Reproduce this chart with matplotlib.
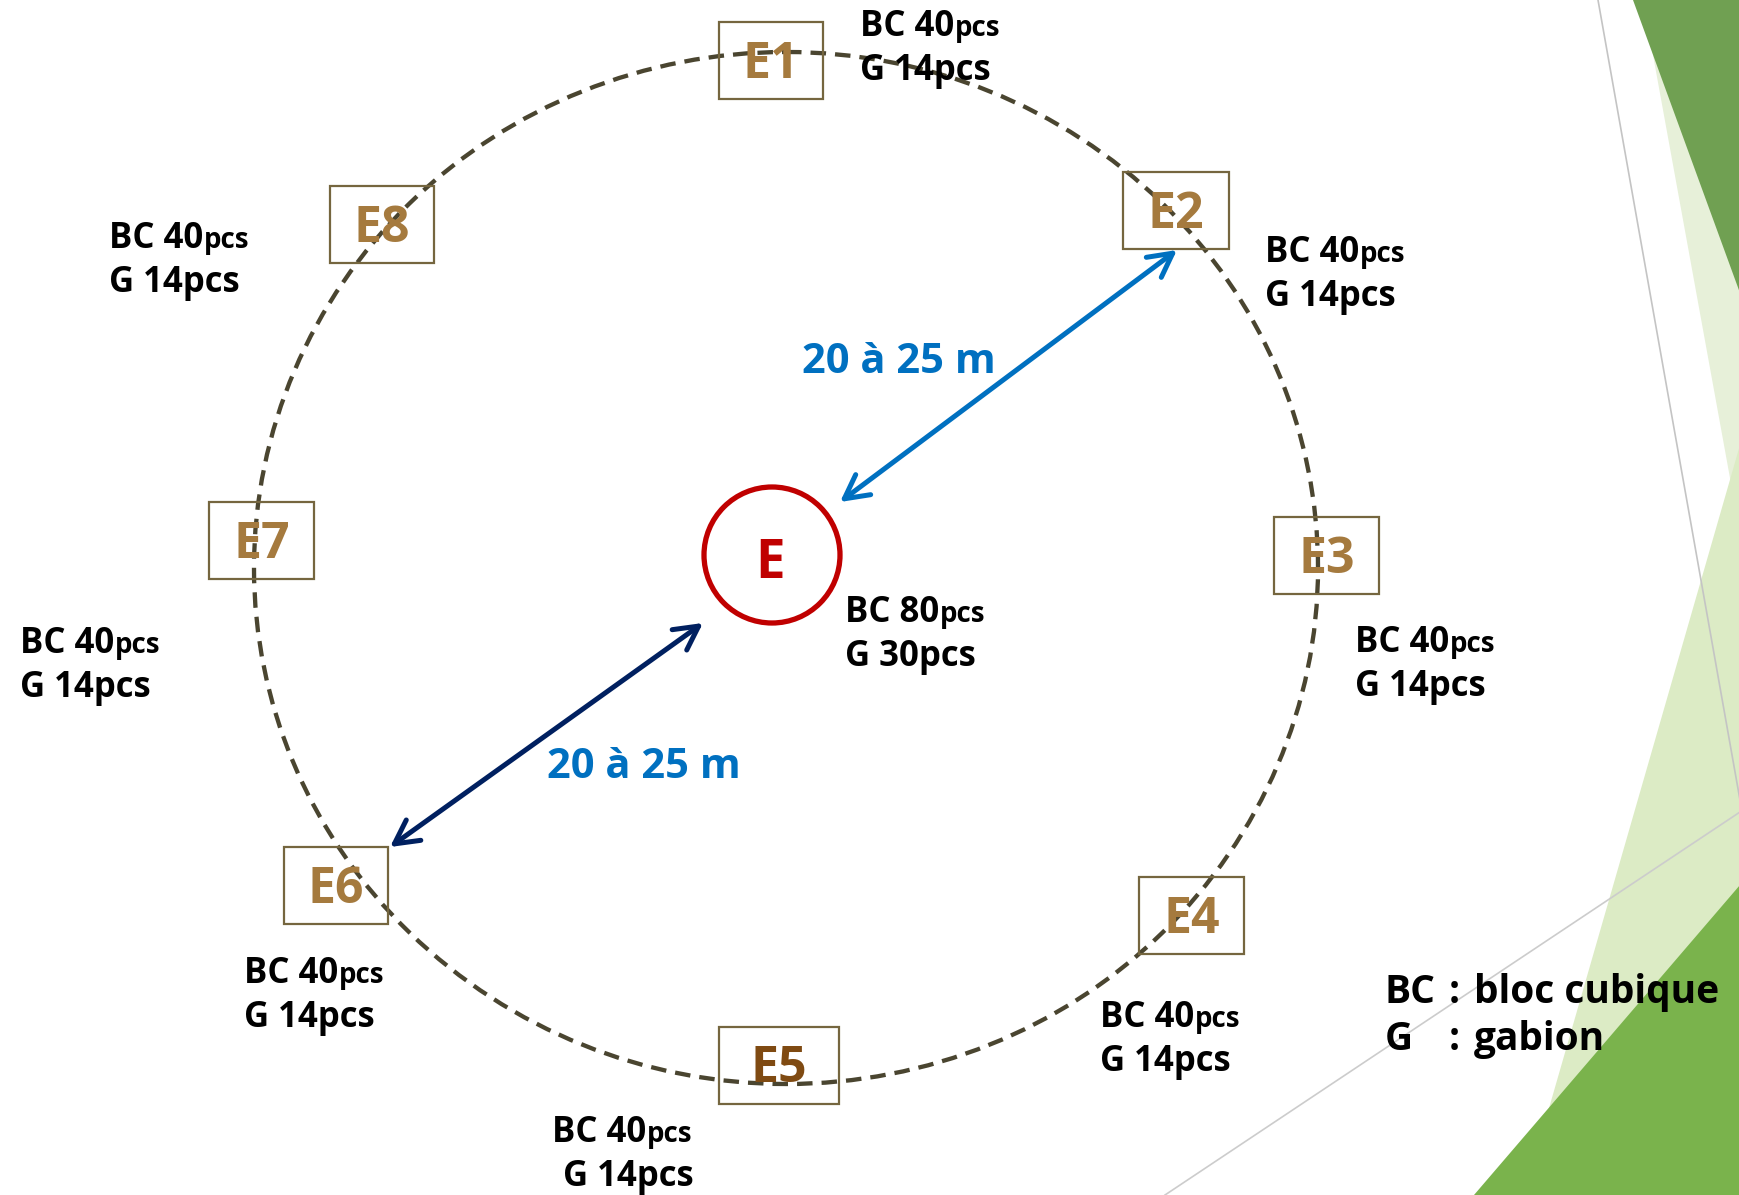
import matplotlib.pyplot as plt
from matplotlib.patches import Rectangle, Ellipse, Circle, Polygon, FancyArrowPatch

plt.rcParams['font.family'] = ['Open Sans', 'DejaVu Sans']
plt.rcParams['font.weight'] = 'bold'

# stations around the central point
stations = ['E1', 'E2', 'E3', 'E4', 'E5', 'E6', 'E7', 'E8']
bc_pcs = [40, 40, 40, 40, 40, 40, 40, 40]
g_pcs = [14, 14, 14, 14, 14, 14, 14, 14]
center_name = 'E'
center_bc = 80
center_g = 30
distance_label = '20 à 25 m'
legend_keys = ['BC', 'G']
legend_vals = ['bloc cubique', 'gabion']

# layout in pixels (x, y from top)
box_xy = [(719, 22), (1123, 172), (1274, 517), (1139, 877),
          (719, 1027), (284, 847), (209, 502), (330, 186)]
box_w = [104, 106, 105, 105, 120, 104, 105, 104]
box_h = 77
lab_xy = [(860, 36), (1265, 262), (1355, 652), (1100, 1027),
          (552, 1142), (244, 983), (20, 653), (109, 248)]
lab_gdx = [0, 0, 0, 0, 11, 0, 0, 0]
line_gap = 44

TAN = '#a57a3e'
BOX = '#75663f'

fig = plt.figure(figsize=(17.4, 11.95), dpi=100)
ax = fig.add_axes([0, 0, 1, 1])
ax.set_xlim(0, 1740)
ax.set_ylim(1195, 0)
ax.axis('off')

# green decoration on the right
ax.add_patch(Polygon([(1643, 0), (1740, 0), (1740, 533)], closed=True, fc='#e7f0d9', ec='none', zorder=0))
ax.add_patch(Polygon([(1633, 0), (1740, 0), (1740, 293)], closed=True, fc='#70a052', ec='none', zorder=0.1))
ax.add_patch(Polygon([(1740, 445), (1740, 1195), (1524, 1195)], closed=True, fc='#dcebc5', ec='none', zorder=0.2))
ax.add_patch(Polygon([(1474, 1195), (1740, 1195), (1740, 885)], closed=True, fc='#7ab34c', ec='none', zorder=0.3))
ax.plot([1598, 1740], [0, 800], color='#c4c4c4', lw=1.2, zorder=0.5)
ax.plot([1165, 1740], [1195, 812], color='#cccccc', lw=1.2, zorder=0.5)

# dashed ring
ax.add_patch(Ellipse((786, 568), 1064, 1032, fill=False, ec='#4a4530', lw=3.1,
                     linestyle=(0, (3.6, 2.1)), zorder=1))

# station boxes
for i, name in enumerate(stations):
    x, y = box_xy[i]
    ax.add_patch(Rectangle((x, y), box_w[i], box_h, fill=False, ec=BOX, lw=1.6, zorder=2))
    col = '#7f4a12' if name == 'E5' else TAN
    ax.text(x + box_w[i] / 2, y + box_h / 2 + 17, name, ha='center', va='baseline',
            fontsize=36, fontweight='bold', color=col, zorder=3)

fig.canvas.draw()
renderer = fig.canvas.get_renderer()
inv = ax.transData.inverted()


def count_label(x, y, bc, g, gdx=0):
    t = ax.text(x, y, 'BC %d' % bc, ha='left', va='baseline', fontsize=25,
                fontweight='bold', color='black', zorder=4)
    bb = t.get_window_extent(renderer)
    xe = inv.transform((bb.x1, bb.y0))[0]
    ax.text(xe + 1, y, 'pcs', ha='left', va='baseline', fontsize=20,
            fontweight='bold', color='black', zorder=4)
    ax.text(x + gdx, y + line_gap, 'G %dpcs' % g, ha='left', va='baseline', fontsize=25,
            fontweight='bold', color='black', zorder=4)


for i in range(len(stations)):
    count_label(lab_xy[i][0], lab_xy[i][1], bc_pcs[i], g_pcs[i], lab_gdx[i])

# central point
ax.add_patch(Circle((772, 555), 68, fill=False, ec='#c00000', lw=3.8, zorder=3))
ax.text(770, 578, center_name, ha='center', va='baseline', fontsize=38,
        fontweight='bold', color='#c00000', zorder=4)
count_label(845, 622, center_bc, center_g)

# distance arrows
for (p0, p1, col) in [((840, 502), (1177, 250), '#0070c0'),
                      ((703, 623), (390, 847), '#002060')]:
    ax.add_patch(FancyArrowPatch(p0, p1, arrowstyle='<->,head_length=0.85,head_width=0.45',
                                 mutation_scale=20, color=col, lw=3.6,
                                 shrinkA=0, shrinkB=0, capstyle='round', joinstyle='round', zorder=3))

ax.text(802, 373, distance_label, ha='left', va='baseline', fontsize=30,
        fontweight='bold', color='#0070c0', zorder=4)
ax.text(547, 778, distance_label, ha='left', va='baseline', fontsize=30,
        fontweight='bold', color='#0070c0', zorder=4)

# legend
for k, (key, val) in enumerate(zip(legend_keys, legend_vals)):
    yb = 1003 + 47 * k
    ax.text(1385, yb, key, ha='left', va='baseline', fontsize=28, fontweight='bold', zorder=4)
    ax.text(1449, yb, ':', ha='left', va='baseline', fontsize=28, fontweight='bold', zorder=4)
    ax.text(1474, yb, val, ha='left', va='baseline', fontsize=28, fontweight='bold', zorder=4)

fig.savefig('out.png', dpi=100)
